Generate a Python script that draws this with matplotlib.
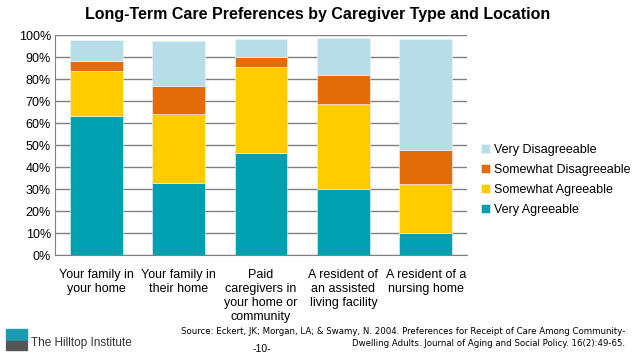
import numpy as np
import matplotlib.pyplot as plt
import matplotlib.patches as mpatches

plt.rcParams['font.family'] = ['Liberation Sans', 'DejaVu Sans']

categories = ['Your family in\nyour home', 'Your family in\ntheir home',
              'Paid\ncaregivers in\nyour home or\ncommunity',
              'A resident of\nan assisted\nliving facility',
              'A resident of a\nnursing home']
very_agree = [63.2, 32.6, 46.2, 29.8, 9.8]
somewhat_agree = [20.3, 31.4, 39.1, 38.8, 22.5]
somewhat_disagree = [4.8, 13.0, 4.6, 13.2, 15.4]
very_disagree = [9.4, 20.1, 8.3, 16.7, 50.5]

series = [('Very Agreeable', very_agree, '#00a0b0'),
          ('Somewhat Agreeable', somewhat_agree, '#ffcc00'),
          ('Somewhat Disagreeable', somewhat_disagree, '#e36c0a'),
          ('Very Disagreeable', very_disagree, '#b7dde8')]

fig = plt.figure(figsize=(6.36, 3.55), dpi=100)
ax = fig.add_axes([55/636, 1-255/355, 412/636, 220/355])

x = np.arange(len(categories))
bottom = np.zeros(len(categories))
handles = []
for name, vals, col in series:
    b = ax.bar(x, vals, 0.64, bottom=bottom, color=col, label=name, zorder=3,
               edgecolor='#f4f4f4', linewidth=0.4)
    handles.append(b)
    bottom += np.array(vals)

ax.set_xlim(-0.5, 4.5)
ax.set_ylim(0, 100)
ax.set_yticks(np.arange(0, 101, 10))
ax.set_yticklabels(['%d%%' % v for v in range(0, 101, 10)], fontsize=9)
ax.yaxis.grid(True, color='#808080', linewidth=1, zorder=0)
ax.set_xticks(x)
ax.set_xticklabels(categories, fontsize=9, linespacing=1.22)
ax.tick_params(length=0, pad=3)
ax.tick_params(axis='x', pad=10)
for s in ['top', 'right']:
    ax.spines[s].set_visible(False)
for s in ['left', 'bottom']:
    ax.spines[s].set_color('#808080')

leg = fig.legend(handles[::-1], [h.get_label() for h in handles[::-1]],
                 loc='center left', bbox_to_anchor=(475/636, 1-180/355),
                 frameon=False, fontsize=9, handlelength=0.7, handleheight=0.7,
                 handletextpad=0.3, labelspacing=0.65, borderpad=0)

fig.text(0.5, 1-14/355, 'Long-Term Care Preferences by Caregiver Type and Location',
         ha='center', va='center', fontsize=11.5, fontweight='bold')

fig.text(625/636, 1-332/355,
         'Source: Eckert, JK; Morgan, LA; & Swamy, N. 2004. Preferences for Receipt of Care Among Community-',
         ha='right', va='center', fontsize=6.2, family='Liberation Sans Narrow')
fig.text(625/636, 1-344/355,
         'Dwelling Adults. Journal of Aging and Social Policy. 16(2):49-65.',
         ha='right', va='center', fontsize=6.2, family='Liberation Sans Narrow')
fig.text(262/636, 1-349/355, '-10-', ha='center', va='center', fontsize=7.5)

# logo
fig.patches.append(mpatches.Rectangle((6/636, 1-340/355), 21/636, 11/355,
                                      transform=fig.transFigure, color='#1a9bb0'))
for i in range(4):
    fig.patches.append(mpatches.Rectangle((6/636, 1-(342.5 + 2.5*i)/355), 21/636, 1.3/355,
                                          transform=fig.transFigure, color='#555555'))
fig.text(31/636, 1-343/355, 'The Hilltop Institute', ha='left', va='center',
         fontsize=8.5, color='#333333')

fig.savefig('out.png', dpi=100)
